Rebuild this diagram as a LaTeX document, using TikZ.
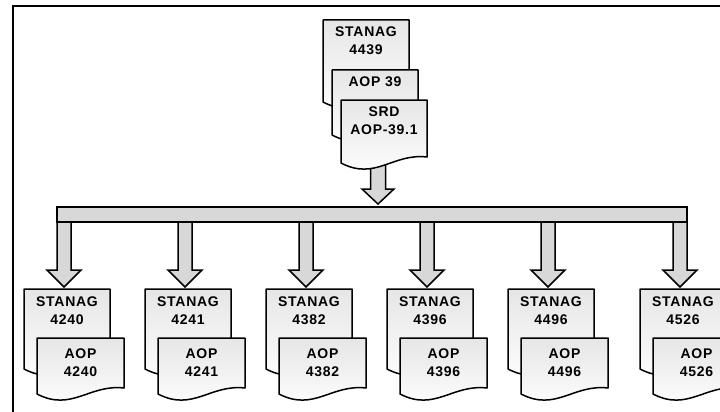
\documentclass[tikz,border=0pt]{standalone}
\usepackage{fontspec}
\newfontfamily\docfont{Liberation Sans}[LetterSpace=5]
\definecolor{arrowgray}{RGB}{216,216,216}
\definecolor{doctop}{RGB}{230,230,230}
\tikzset{
  docbox/.style={draw=black, line width=1.5pt, line join=round, top color=doctop, bottom color=white},
  fatarrow/.style={draw=black, line width=1.5pt, line join=miter, fill=arrowgray},
  barbox/.style={draw=black, line width=1.5pt, fill=arrowgray},
  doctext/.style={font=\docfont\bfseries\fontsize{14}{18}\selectfont, align=center, inner sep=0pt, anchor=north},
  frameline/.style={draw=black, line width=1.5pt}
}
% document shape: x y w h (h = height at left side)
\newcommand\docshape[4]{%
  \path[docbox] (#1,#2) -- (#1+#3,#2) -- (#1+#3,#2+#4-6)
    .. controls (#1+0.6*#3,#2+#4-10) and (#1+0.4*#3,#2+#4+18) .. (#1,#2+#4) -- cycle;}
% fat arrow: centre x, top y, head start y, tip y, shaft half width, head half width
\newcommand\fatarrow[6]{%
  \path[fatarrow] (#1-#5,#2) -- (#1-#5,#3) -- (#1-#6,#3) -- (#1,#4) -- (#1+#6,#3) -- (#1+#5,#3) -- (#1+#5,#2) -- cycle;}
\begin{document}
\begin{tikzpicture}[x=1pt,y=-1pt]
\useasboundingbox (0,0) rectangle (720,412);
\fill[white] (0,0) rectangle (720,412);
% frame
\draw[frameline] (13,412) -- (13,6) -- (721,6);
% top documents
\docshape{323}{20}{86}{82}
\node[doctext] (stanag4439) at (366,27) {STANAG\\4439};
\docshape{332}{70}{86}{65}
\node[doctext] (aop39) at (375,77) {AOP 39};
\fatarrow{378}{150}{189}{204}{7.5}{16}
\docshape{341}{100}{86}{63}
\node[doctext] (srd) at (384,107) {SRD\\AOP-39.1};
% bottom arrows
\foreach \c in {64,185,306,427,548,680}{
  \fatarrow{\c}{215}{270}{287}{7}{17}
}
% bar
\node[barbox, minimum width=630pt, minimum height=15pt, inner sep=0pt] (bar) at (372,214.5) {};
% bottom documents
\foreach \c/\n in {64/4240,185/4241,306/4382,427/4396,548/4496,680/4526}{
  \docshape{\c-40}{289}{86}{80}
  \node[doctext] (stanag\n) at (\c+3,297) {STANAG\\\n};
  \docshape{\c-27}{338}{87}{56}
  \node[doctext] (aop\n) at (\c+16.5,349) {AOP\\\n};
}
\end{tikzpicture}
\end{document}
